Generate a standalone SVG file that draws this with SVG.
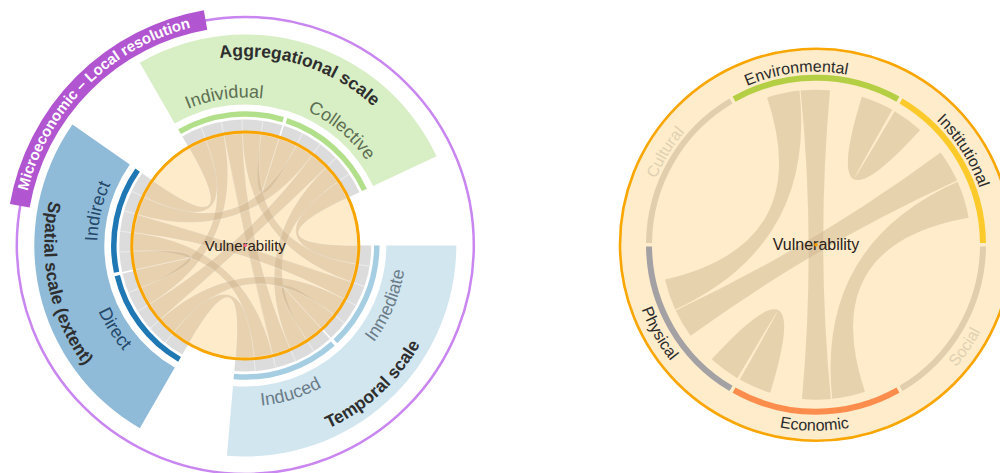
<svg xmlns="http://www.w3.org/2000/svg" width="1000" height="473" viewBox="0 0 1000 473">
<style>
text{font-family:"Liberation Sans",Arial,sans-serif}
.title{font-size:17.5px;font-weight:bold;fill:#2e2e2e}
.sub{font-size:18px}
.rib{fill:#c8ad88;fill-opacity:.42}
.ribL{stroke:#fff;stroke-opacity:.35;stroke-width:.7}
.lab{font-size:16px;fill:#2a2a2a}
.fade{fill:#e0d1b3}
.gray{fill:none;stroke:#dcdcdc;stroke-width:13}
.seg{fill:none;stroke-width:6}
.sub2{fill:none;stroke-width:5.5}
</style>
<defs>
<path id="tAgg" d="M117.61,106.15 A189,189 0 0 1 429.82,204.60"/>
<path id="tTemp" d="M184.86,437.19 A201,201 0 0 0 441.54,202.0"/>
<path id="tSpat" d="M110.81,96.14 A201,201 0 0 0 183.19,436.67"/>
<path id="tInd" d="M154.18,128.88 A148,148 0 0 1 300.74,108.27"/>
<path id="tCol" d="M270.99,99.75 A148,148 0 0 1 384.38,194.88"/>
<path id="tIndi" d="M103.77,288.78 A148,148 0 0 1 137.05,144.56"/>
<path id="tInm" d="M342.19,374.07 A161,161 0 0 0 405.09,225.87"/>
<path id="tIndu" d="M209.07,402.38 A161,161 0 0 0 363.06,355.30"/>
<path id="tDir" d="M84.46,252.52 A161,161 0 0 0 170.97,388.31"/>
<path id="tMicro" d="M24.21,206.53 A224.5,224.5 0 0 1 206.33,24.41"/>
<path id="tEnv" d="M657.34,175.72 A173,173 0 0 1 955.07,141.80"/>
<path id="tInst" d="M808.46,71.87 A173,173 0 0 1 969.45,324.57"/>
<path id="tCult" d="M663.97,327.26 A173,173 0 0 1 820.53,71.75"/>
<path id="tSoc" d="M801.4,430.12 A186,186 0 0 0 983.88,164.63"/>
<path id="tEco" d="M654.11,336.29 A186,186 0 0 0 976.26,339.10"/>
<path id="tPhy" d="M655.74,150.30 A186,186 0 0 0 814.38,430.70"/>
<line id="dv" x1="245.3" y1="119.5" x2="245.3" y2="132.5" stroke="#ececec" stroke-width="1"/>
<path id="segArc" d="M-81.98,-145.49 A167,167 0 0 1 81.98,-145.49"/>
</defs>
<rect width="1000" height="473" fill="#fff"/>

<!-- LEFT DIAGRAM -->
<g id="resolution-ring">
<circle cx="245.3" cy="245.4" r="228.5" fill="none" stroke="#c985f0" stroke-width="2.5"/>
</g>
<g id="microeconomic-local-resolution">
<path d="M19.78,205.75 A229,229 0 0 1 205.55,19.98" fill="none" stroke="#b155d0" stroke-width="20"/>
<text font-size="15" font-weight="bold" fill="#fff"><textPath href="#tMicro" startOffset="50%" text-anchor="middle">Microeconomic – Local resolution</textPath></text>
</g>

<g id="aggregational-scale">
<path d="M139.8,62.77 A211,211 0 0 1 436.53,156.33 L373.09,185.91 A141,141 0 0 0 174.8,123.39 Z" fill="#d8eec5"/>
<text class="title"><textPath href="#tAgg" startOffset="50%" text-anchor="middle">Aggregational scale</textPath></text>
</g>
<g id="temporal-scale">
<path d="M456.3,245.5 A211,211 0 0 1 226.90,455.70 L233.0,385.96 A141,141 0 0 0 386.3,245.5 Z" fill="#d2e6f0"/>
<text class="title"><textPath href="#tTemp" startOffset="50%" text-anchor="middle">Temporal scale</textPath></text>
</g>
<g id="spatial-scale">
<path d="M139.8,428.23 A211,211 0 0 1 72.45,124.47 L129.79,164.62 A141,141 0 0 0 174.8,367.61 Z" fill="#8fbbd9"/>
<text class="title"><textPath href="#tSpat" startOffset="50%" text-anchor="middle">Spatial scale (extent)</textPath></text>
</g>

<g id="gray-ring">
<path class="gray" d="M185.55,142.01 A119.5,119.5 0 0 1 353.60,195.00"/>
<path class="gray" d="M364.8,245.5 A119.5,119.5 0 0 1 234.88,364.55"/>
<path class="gray" d="M185.55,348.99 A119.5,119.5 0 0 1 147.41,176.95"/>
<use href="#dv" transform="rotate(-20.5 245.3 245.5)"/><use href="#dv" transform="rotate(-11 245.3 245.5)"/><use href="#dv" transform="rotate(-1.5 245.3 245.5)"/><use href="#dv" transform="rotate(8 245.3 245.5)"/>
<use href="#dv" transform="rotate(27 245.3 245.5)"/><use href="#dv" transform="rotate(36.5 245.3 245.5)"/><use href="#dv" transform="rotate(46 245.3 245.5)"/><use href="#dv" transform="rotate(55.5 245.3 245.5)"/>
<use href="#dv" transform="rotate(99.5 245.3 245.5)"/><use href="#dv" transform="rotate(109 245.3 245.5)"/><use href="#dv" transform="rotate(118.5 245.3 245.5)"/><use href="#dv" transform="rotate(128 245.3 245.5)"/>
<use href="#dv" transform="rotate(147 245.3 245.5)"/><use href="#dv" transform="rotate(156.5 245.3 245.5)"/><use href="#dv" transform="rotate(166 245.3 245.5)"/><use href="#dv" transform="rotate(175.5 245.3 245.5)"/>
<use href="#dv" transform="rotate(219.5 245.3 245.5)"/><use href="#dv" transform="rotate(229 245.3 245.5)"/><use href="#dv" transform="rotate(238.5 245.3 245.5)"/><use href="#dv" transform="rotate(248 245.3 245.5)"/>
<use href="#dv" transform="rotate(267 245.3 245.5)"/><use href="#dv" transform="rotate(276.5 245.3 245.5)"/><use href="#dv" transform="rotate(286 245.3 245.5)"/><use href="#dv" transform="rotate(295.5 245.3 245.5)"/>
<g stroke="#fff" stroke-width="1.6">
<line x1="278.98" y1="138.69" x2="286.20" y2="115.80"/>
<line x1="320.97" y1="328.08" x2="337.18" y2="345.77"/>
<line x1="135.95" y1="269.74" x2="112.52" y2="274.93"/>
</g>
</g>

<g id="individual">
<path class="sub2" stroke="#b2df8a" d="M179.55,131.62 A131.5,131.5 0 0 1 283.20,119.58"/>
<text class="sub" fill="#5c6f52"><textPath href="#tInd" startOffset="50%" text-anchor="middle">Individual</textPath></text>
</g>
<g id="collective">
<path class="sub2" stroke="#b2df8a" d="M286.47,120.61 A131.5,131.5 0 0 1 364.48,189.93"/>
<text class="sub" fill="#5c6f52"><textPath href="#tCol" startOffset="50%" text-anchor="middle">Collective</textPath></text>
</g>
<g id="inmediate">
<path class="sub2" stroke="#a6cee3" d="M376.8,245.5 A131.5,131.5 0 0 1 335.39,341.28"/>
<text class="sub" fill="#6b7c88"><textPath href="#tInm" startOffset="50%" text-anchor="middle">Inmediate</textPath></text>
</g>
<g id="induced">
<path class="sub2" stroke="#a6cee3" d="M332.87,343.61 A131.5,131.5 0 0 1 233.83,376.50"/>
<text class="sub" fill="#6b7c88"><textPath href="#tIndu" startOffset="50%" text-anchor="middle">Induced</textPath></text>
</g>
<g id="direct">
<path class="sub2" stroke="#1f78b4" d="M179.55,359.38 A131.5,131.5 0 0 1 117.30,275.64"/>
<text class="sub" fill="#24486a"><textPath href="#tDir" startOffset="50%" text-anchor="middle">Direct</textPath></text>
</g>
<g id="indirect">
<path class="sub2" stroke="#1f78b4" d="M116.56,272.27 A131.5,131.5 0 0 1 137.58,170.07"/>
<text class="sub" fill="#24486a"><textPath href="#tIndi" startOffset="50%" text-anchor="middle">Indirect</textPath></text>
</g>

<g id="vulnerability-left-fill">
<circle cx="245.3" cy="245.5" r="113.5" fill="#feebca"/>
</g>

<g id="connectors-left" class="rib ribL">
<path d="M260.89,134.59 A112,112 0 0 1 278.98,138.69 Q245.3,245.5 278.98,138.69 A112,112 0 0 1 296.15,145.71 Q245.3,245.5 260.89,134.59Z"/>
<path d="M242.37,133.54 A112,112 0 0 1 260.89,134.59 Q245.3,245.5 355.77,263.98 A112,112 0 0 1 351.20,281.97 Q245.3,245.5 242.37,133.54Z"/>
<path d="M223.93,135.56 A112,112 0 0 1 242.37,133.54 Q245.3,245.5 289.95,348.22 A112,112 0 0 1 272.39,354.17 Q245.3,245.5 223.93,135.56Z"/>
<path d="M206.08,140.59 A112,112 0 0 1 223.93,135.56 Q245.3,245.5 149.81,304.02 A112,112 0 0 1 141.45,287.46 Q245.3,245.5 206.08,140.59Z"/>
<path d="M189.3,148.5 A112,112 0 0 1 206.08,140.59 Q245.3,245.5 144.21,197.28 A112,112 0 0 1 153.55,181.26 Q245.3,245.5 189.3,148.5Z"/>
<path d="M337.60,182.06 A112,112 0 0 1 346.81,198.17 Q245.3,245.5 357.3,245.5 A112,112 0 0 1 355.77,263.98 Q245.3,245.5 337.60,182.06Z"/>
<path d="M325.86,167.69 A112,112 0 0 1 337.60,182.06 Q245.3,245.5 306.30,339.43 A112,112 0 0 1 289.95,348.22 Q245.3,245.5 325.86,167.69Z"/>
<path d="M311.92,155.46 A112,112 0 0 1 325.86,167.69 Q245.3,245.5 160.77,318.98 A112,112 0 0 1 149.81,304.02 Q245.3,245.5 311.92,155.46Z"/>
<path d="M296.15,145.71 A112,112 0 0 1 311.92,155.46 Q245.3,245.5 137.63,214.63 A112,112 0 0 1 144.21,197.28 Q245.3,245.5 296.15,145.71Z"/>
<path d="M333.56,314.46 A112,112 0 0 1 320.97,328.08 Q245.3,245.5 320.97,328.08 A112,112 0 0 1 306.30,339.43 Q245.3,245.5 333.56,314.46Z"/>
<path d="M343.73,298.95 A112,112 0 0 1 333.56,314.46 Q245.3,245.5 174.06,331.92 A112,112 0 0 1 160.77,318.98 Q245.3,245.5 343.73,298.95Z"/>
<path d="M351.20,281.97 A112,112 0 0 1 343.73,298.95 Q245.3,245.5 134.02,232.82 A112,112 0 0 1 137.63,214.63 Q245.3,245.5 351.20,281.97Z"/>
<path d="M254.09,357.15 A112,112 0 0 1 235.53,357.07 Q245.3,245.5 189.3,342.5 A112,112 0 0 1 174.06,331.92 Q245.3,245.5 254.09,357.15Z"/>
<path d="M272.39,354.17 A112,112 0 0 1 254.09,357.15 Q245.3,245.5 133.46,251.36 A112,112 0 0 1 134.02,232.82 Q245.3,245.5 272.39,354.17Z"/>
<path d="M141.45,287.46 A112,112 0 0 1 135.95,269.74 Q245.3,245.5 135.95,269.74 A112,112 0 0 1 133.46,251.36 Q245.3,245.5 141.45,287.46Z"/>
</g>

<g id="vulnerability-left">
<circle cx="245.3" cy="245.5" r="113.5" fill="none" stroke="#f9a500" stroke-width="3"/>
<text x="245.3" y="250.5" font-size="15" fill="#2a2118" text-anchor="middle">Vulnerability</text>
<circle cx="245.3" cy="245.5" r="1.8" fill="#e8648a"/>
</g>

<!-- RIGHT DIAGRAM -->
<g id="vulnerability-right-frame">
<circle cx="816" cy="244.7" r="196" fill="#feecca" stroke="#f9a602" stroke-width="2.6"/>
</g>
<g id="environmental">
<use href="#segArc" class="seg" stroke="#b5cf45" transform="translate(816 244.7)"/>
<text class="lab"><textPath href="#tEnv" startOffset="50%" text-anchor="middle">Environmental</textPath></text>
</g>
<g id="institutional">
<use href="#segArc" class="seg" stroke="#fcca2a" transform="translate(816 244.7) rotate(60)"/>
<text class="lab"><textPath href="#tInst" startOffset="50%" text-anchor="middle">Institutional</textPath></text>
</g>
<g id="social">
<use href="#segArc" class="seg" stroke="#e1ceac" transform="translate(816 244.7) rotate(120)"/>
<text class="lab fade"><textPath href="#tSoc" startOffset="50%" text-anchor="middle">Social</textPath></text>
</g>
<g id="economic">
<use href="#segArc" class="seg" stroke="#fd8d4c" transform="translate(816 244.7) rotate(180)"/>
<text class="lab"><textPath href="#tEco" startOffset="50%" text-anchor="middle">Economic</textPath></text>
</g>
<g id="physical">
<use href="#segArc" class="seg" stroke="#a3a1a4" transform="translate(816 244.7) rotate(240)"/>
<text class="lab"><textPath href="#tPhy" startOffset="50%" text-anchor="middle">Physical</textPath></text>
</g>
<g id="cultural">
<use href="#segArc" class="seg" stroke="#e1ceac" transform="translate(816 244.7) rotate(300)"/>
<text class="lab fade"><textPath href="#tCult" startOffset="50%" text-anchor="middle">Cultural</textPath></text>
</g>

<g id="connectors-right" class="rib" transform="translate(816 244.7)">
<path d="M-48.92,-147.08 A155,155 0 0 1 -16.48,-154.12 Q0,0 -140.82,64.77 A155,155 0 0 1 -151.03,34.88 Q0,0 -48.92,-147.08Z"/>
<path d="M-15.39,-154.24 A155,155 0 0 1 14.04,-154.36 Q0,0 14.85,154.29 A155,155 0 0 1 -14.04,154.36 Q0,0 -15.39,-154.24Z"/>
<path d="M45.83,-148.07 A155,155 0 0 1 76.32,-134.91 Q0,0 78.66,-133.55 A155,155 0 0 1 104.11,-114.82 Q0,0 45.83,-148.07Z"/>
<path d="M124.60,-92.19 A155,155 0 0 1 141.05,-64.28 Q0,0 -125.40,91.11 A155,155 0 0 1 -140.37,65.75 Q0,0 124.60,-92.19Z"/>
<path d="M141.59,-63.04 A155,155 0 0 1 152.64,-26.91 Q0,0 48.92,147.08 A155,155 0 0 1 16.20,154.15 Q0,0 141.59,-63.04Z"/>
<path d="M-78.66,133.55 A155,155 0 0 1 -104.32,114.64 Q0,0 -45.83,148.07 A155,155 0 0 1 -76.32,134.91 Q0,0 -78.66,133.55Z"/>
</g>

<g id="vulnerability-right">
<text x="816" y="250" font-size="16" fill="#2a2118" text-anchor="middle">Vulnerability</text>
<circle cx="816" cy="244.7" r="1.8" fill="#f9a602"/>
</g>
</svg>
